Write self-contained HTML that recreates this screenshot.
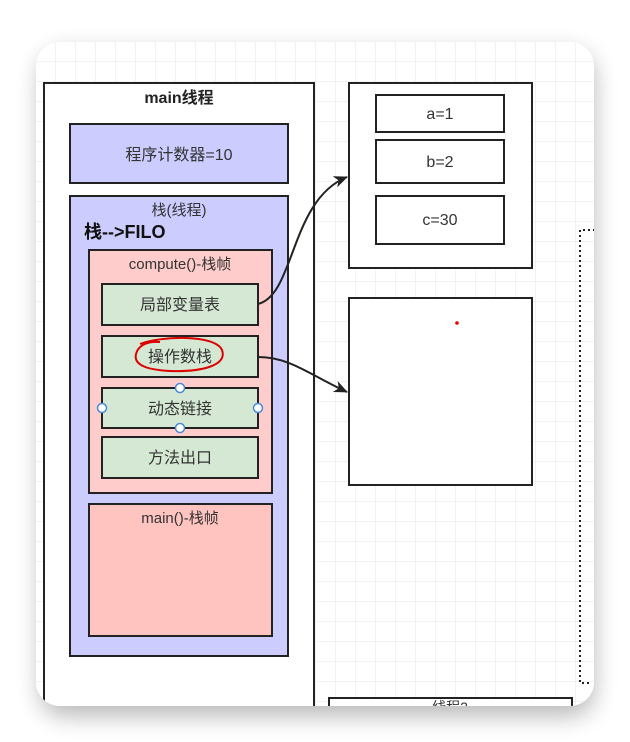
<!DOCTYPE html>
<html><head><meta charset="utf-8"><style>
html,body{margin:0;padding:0;background:#fff;width:630px;height:742px;overflow:hidden}
svg{display:block}
text{font-family:"Liberation Sans","Noto Sans CJK SC",sans-serif;fill:#333}
</style></head><body>
<svg width="630" height="742" viewBox="0 0 630 742" xmlns="http://www.w3.org/2000/svg">
<defs>
<pattern id="g" width="20" height="20" patternUnits="userSpaceOnUse" x="36" y="42">
<path d="M20 0V20H0" fill="none" stroke="#e2e6ea" stroke-width="1"/>
</pattern>
<filter id="sh" x="-20%" y="-20%" width="140%" height="140%"><feGaussianBlur stdDeviation="12"/></filter>
<clipPath id="cp"><rect x="36" y="42" width="558" height="664" rx="24"/></clipPath>
<marker id="ar" markerWidth="14" markerHeight="12" refX="13" refY="6" orient="auto" markerUnits="userSpaceOnUse"><path d="M0,0 L14,6 L0,12 L4,6Z" fill="#222"/></marker>
</defs>
<rect x="40" y="52" width="554" height="664" rx="24" fill="#000" opacity="0.28" filter="url(#sh)"/>
<rect x="36" y="42" width="558" height="664" rx="24" fill="#fff"/>
<g clip-path="url(#cp)">
<rect x="36" y="42" width="558" height="664" fill="url(#g)"/>
<rect x="44" y="83" width="270" height="680" fill="#fff" stroke="#222" stroke-width="2"/>
<text x="179" y="103" font-size="16" font-weight="bold" text-anchor="middle" style="fill:#222">main线程</text>
<rect x="70" y="124" width="218" height="59" fill="#ccccff" stroke="#222" stroke-width="2"/>
<text x="179" y="160" font-size="16" text-anchor="middle">程序计数器=10</text>
<rect x="70" y="196" width="218" height="460" fill="#ccccff" stroke="#222" stroke-width="2"/>
<text x="179" y="215" font-size="15" text-anchor="middle">栈(线程)</text>
<text x="84" y="238" font-size="18" font-weight="bold" style="fill:#111">栈--&gt;FILO</text>
<rect x="89" y="250" width="183" height="243" fill="#ffcccc" stroke="#222" stroke-width="2"/>
<text x="180" y="269" font-size="15" text-anchor="middle">compute()-栈帧</text>
<g fill="#d5e8d4" stroke="#222" stroke-width="2">
<rect x="102" y="284" width="156" height="41"/>
<rect x="102" y="336" width="156" height="41"/>
<rect x="102" y="388" width="156" height="40"/>
<rect x="102" y="437" width="156" height="41"/>
</g>
<g font-size="16" text-anchor="middle">
<text x="180" y="310">局部变量表</text>
<text x="180" y="362">操作数栈</text>
<text x="180" y="414">动态链接</text>
<text x="180" y="463">方法出口</text>
</g>
<path d="M140 344 C160 336,215 334,222 350 C228 366,200 372,170 371 C150 370,133 366,136 354 C138 346,146 341,160 342" fill="none" stroke="#d00" stroke-width="2"/>
<g fill="#fff" stroke="#4a8ad8" stroke-width="1.5">
<circle cx="180" cy="388" r="4.5"/><circle cx="102" cy="408" r="4.5"/><circle cx="258" cy="408" r="4.5"/><circle cx="180" cy="428" r="4.5"/>
</g>
<rect x="89" y="504" width="183" height="132" fill="#ffc4c0" stroke="#222" stroke-width="2"/>
<text x="180" y="523" font-size="15" text-anchor="middle">main()-栈帧</text>
<rect x="349" y="83" width="183" height="185" fill="#fff" stroke="#222" stroke-width="2"/>
<g fill="#fff" stroke="#222" stroke-width="2">
<rect x="376" y="95" width="128" height="37"/>
<rect x="376" y="140" width="128" height="43"/>
<rect x="376" y="196" width="128" height="48"/>
</g>
<g font-size="16" text-anchor="middle">
<text x="440" y="119">a=1</text>
<text x="440" y="167">b=2</text>
<text x="440" y="225">c=30</text>
</g>
<rect x="349" y="298" width="183" height="187" fill="#fff" stroke="#222" stroke-width="2"/>
<circle cx="457" cy="323" r="1.8" fill="#e00"/>
<path d="M258 304 C295 295,290 200,347 177" fill="none" stroke="#222" stroke-width="2" marker-end="url(#ar)"/>
<path d="M258 357 C290 357,310 375,347 392" fill="none" stroke="#222" stroke-width="2" marker-end="url(#ar)"/>
<path d="M600 230 H580 V683 H592" fill="none" stroke="#222" stroke-width="2" stroke-dasharray="2 3"/>
<rect x="329" y="698" width="243" height="40" fill="#fff" stroke="#222" stroke-width="2"/>
<text x="450" y="712" font-size="14" text-anchor="middle">线程2</text>
</g>
</svg>
</body></html>
